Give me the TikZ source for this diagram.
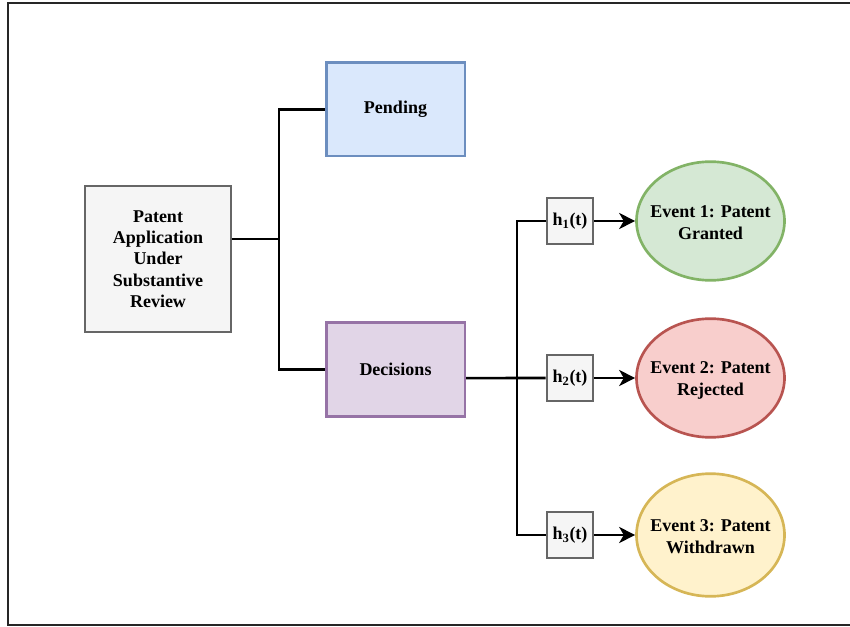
\documentclass[tikz,border=0pt]{standalone}
\usepackage{fontspec}
\setmainfont{Liberation Serif}
\usetikzlibrary{shapes.geometric,arrows.meta}
\definecolor{grayfill}{HTML}{F5F5F5}
\definecolor{graystroke}{HTML}{666666}
\definecolor{bluefill}{HTML}{DAE8FC}
\definecolor{bluestroke}{HTML}{6C8EBF}
\definecolor{purplefill}{HTML}{E1D5E7}
\definecolor{purplestroke}{HTML}{9673A6}
\definecolor{greenfill}{HTML}{D5E8D4}
\definecolor{greenstroke}{HTML}{82B366}
\definecolor{redfill}{HTML}{F8CECC}
\definecolor{redstroke}{HTML}{B85450}
\definecolor{yellowfill}{HTML}{FFF2CC}
\definecolor{yellowstroke}{HTML}{D6B656}
\tikzset{
  box/.style={draw, line width=2pt, rectangle, align=center, inner sep=0pt,
    font=\fontsize{13.5}{16}\selectfont\bfseries},
  hbox/.style={box, fill=grayfill, draw=graystroke, minimum width=34.5pt, minimum height=34.5pt},
  ev/.style={draw, line width=2pt, ellipse, inner sep=0pt, minimum width=111pt, minimum height=89pt},
  evtext/.style={align=center, yshift=-1.5pt, font=\fontsize{13.5}{16.5}\selectfont\bfseries},
  conn/.style={line width=1.9pt, black},
  arr/.style={conn, -{Stealth[length=12pt,width=12pt,inset=3.5pt]}}
}
\begin{document}
\begin{tikzpicture}[x=0.75pt,y=-0.75pt]
\useasboundingbox (0,0) rectangle (850,627);
\draw[line width=1.4pt, black!85] (8,3) rectangle (860,625);

\node[box, fill=grayfill, draw=graystroke, minimum width=109.5pt, minimum height=109.5pt] (pa) at (158,259)
  {Patent\\Application\\Under\\Substantive\\Review};
\node[box, fill=bluefill, draw=bluestroke, minimum width=104pt, minimum height=70pt] (pend) at (395.5,109.5) {Pending};
\node[box, fill=purplefill, draw=purplestroke, minimum width=104pt, minimum height=70pt] (dec) at (395.5,369.5) {Decisions};

\node[hbox] (h1) at (570,221) {h\textsubscript{1}(t)};
\node[hbox] (h2) at (570,378) {h\textsubscript{2}(t)};
\node[hbox] (h3) at (570,535) {h\textsubscript{3}(t)};

\node[ev, fill=greenfill, draw=greenstroke] (e1) at (710.5,221) {};
\node[evtext] (t1) at (e1.center) {Event 1: Patent\\Granted};
\node[ev, fill=redfill, draw=redstroke] (e2) at (710.5,378) {};
\node[evtext] (t2) at (e2.center) {Event 2: Patent\\Rejected};
\node[ev, fill=yellowfill, draw=yellowstroke, minimum height=92pt] (e3) at (710.5,535) {};
\node[evtext] (t3) at (e3.center) {Event 3: Patent\\Withdrawn};

\coordinate (j1) at (279,239);
\coordinate (j2) at (517,378);

\draw[conn] ([yshift=15pt]pa.east) -- (j1);
\draw[conn] (pend.west) -| (j1) |- (dec.west);
\draw[conn] ([yshift=-6.4pt]dec.east) -- (h2.west);
\draw[conn] (h1.west) -| (j2) |- (h3.west);

\draw[arr] (h1.east) -- (e1.west);
\draw[arr] (h2.east) -- (e2.west);
\draw[arr] (h3.east) -- (e3.west);
\end{tikzpicture}
\end{document}
